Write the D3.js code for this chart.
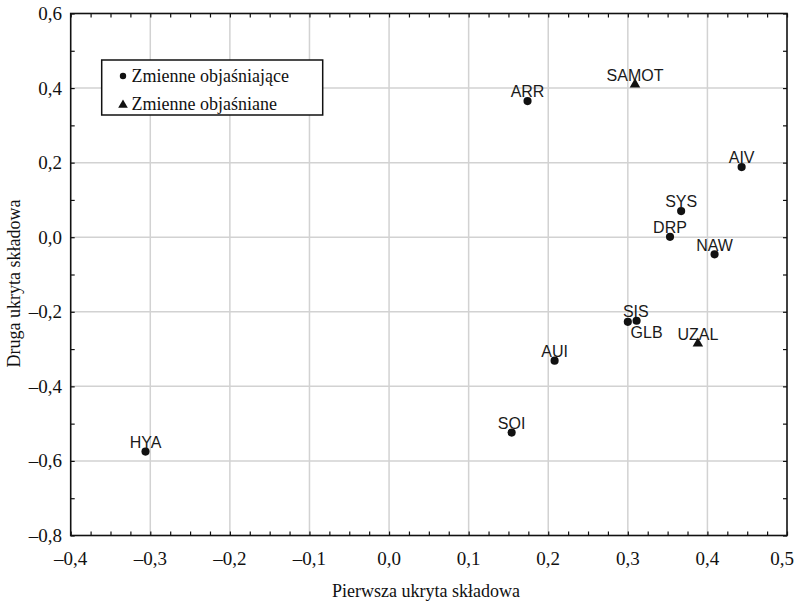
<!DOCTYPE html>
<html>
<head>
<meta charset="utf-8">
<script src="https://cdn.jsdelivr.net/npm/d3@7"></script>
<style>
  body { margin: 0; background: #fff; }
  svg { display: block; }
  .tick-label { font-family: "Liberation Serif", "Times New Roman", serif; font-size: 19px; fill: #111; }
  .axis-title { font-family: "Liberation Serif", "Times New Roman", serif; font-size: 18px; fill: #111; }
  .pt-label { font-family: "Liberation Sans", Arial, sans-serif; font-size: 16px; fill: #1a1a1a; }
  .legend-text { font-family: "Liberation Serif", "Times New Roman", serif; font-size: 18px; fill: #111; }
</style>
</head>
<body>
<script>
//////////////////////////////// DATA ////////////////////////////////
var names  = ["ARR", "SAMOT", "AIV", "SYS", "DRP", "NAW", "SIS", "GLB", "UZAL", "AUI", "SOI", "HYA"];
var xVals  = [0.174, 0.309, 0.443, 0.367, 0.353, 0.409, 0.300, 0.311, 0.388, 0.208, 0.154, -0.306];
var yVals  = [0.365, 0.410, 0.188, 0.070, 0.001, -0.046, -0.227, -0.224, -0.285, -0.331, -0.524, -0.575];
// "e" = zmienne objaśniające (kropka), "d" = zmienne objaśniane (trójkąt)
var kinds  = ["e", "d", "e", "e", "e", "e", "e", "e", "d", "e", "e", "e"];

var xTicks = [-0.4, -0.3, -0.2, -0.1, 0.0, 0.1, 0.2, 0.3, 0.4, 0.5];
var yTicks = [-0.8, -0.6, -0.4, -0.2, 0.0, 0.2, 0.4, 0.6];
var legendLabels = ["Zmienne objaśniające", "Zmienne objaśniane"];
var xTitle = "Pierwsza ukryta składowa";
var yTitle = "Druga ukryta składowa";

// label nudges (layout only)
var labelNudge = { SIS: [8, -5], GLB: [10, 17] };

//////////////////////////////// SETUP ////////////////////////////////
var width = 795,
    height = 604,
    pLeft = 70.7, pRight = 787,
    pTop = 13.5, pBottom = 535.5;

var svg = d3.select("body").append("svg")
    .attr("width", width)
    .attr("height", height);

var x = d3.scaleLinear().domain([-0.4, 0.5]).range([pLeft, pRight]);
var y = d3.scaleLinear().domain([-0.8, 0.6]).range([pBottom, pTop]);

function fmt(v) {
    var s = d3.format(".1f")(Math.abs(v)).replace(".", ",");
    return (v < -1e-9 ? "\u2013" : "") + s;
}

// gridlines
svg.append("g").selectAll("line")
    .data(xTicks.slice(1, -1))
    .enter().append("line")
    .attr("x1", function (d) { return x(d); })
    .attr("x2", function (d) { return x(d); })
    .attr("y1", pTop).attr("y2", pBottom)
    .attr("stroke", "#d2d2d2").attr("stroke-width", 1.5);

svg.append("g").selectAll("line")
    .data(yTicks.slice(1, -1))
    .enter().append("line")
    .attr("y1", function (d) { return y(d); })
    .attr("y2", function (d) { return y(d); })
    .attr("x1", pLeft).attr("x2", pRight)
    .attr("stroke", "#d2d2d2").attr("stroke-width", 1.5);

// inner ticks via d3 axes
var minorX = d3.range(0, 37).map(function (i) { return -0.4 + i * 0.025; });
var minorY = d3.range(0, 15).map(function (i) { return -0.8 + i * 0.1; });

function noDomain(g) { g.select(".domain").remove(); }

svg.append("g")
    .attr("transform", "translate(0," + pBottom + ")")
    .call(d3.axisTop(x).tickValues(minorX).tickSize(4).tickFormat(""))
    .call(noDomain);
svg.append("g")
    .attr("transform", "translate(0," + pTop + ")")
    .call(d3.axisBottom(x).tickValues(minorX).tickSize(4).tickFormat(""))
    .call(noDomain);
svg.append("g")
    .attr("transform", "translate(" + pLeft + ",0)")
    .call(d3.axisRight(y).tickValues(minorY).tickSize(4).tickFormat(""))
    .call(noDomain);
svg.append("g")
    .attr("transform", "translate(" + pRight + ",0)")
    .call(d3.axisLeft(y).tickValues(minorY).tickSize(4).tickFormat(""))
    .call(noDomain);

svg.selectAll(".tick line").attr("stroke", "#111").attr("stroke-width", 1.2);
svg.selectAll(".tick text").remove();

// frame
svg.append("rect")
    .attr("x", pLeft).attr("y", pTop)
    .attr("width", pRight - pLeft).attr("height", pBottom - pTop)
    .attr("fill", "none").attr("stroke", "#111").attr("stroke-width", 1.6);

// tick labels
svg.append("g").selectAll("text")
    .data(xTicks)
    .enter().append("text")
    .attr("class", "tick-label")
    .attr("x", function (d) { return Math.min(x(d), 782); })
    .attr("y", 565)
    .attr("text-anchor", "middle")
    .text(fmt);

svg.append("g").selectAll("text")
    .data(yTicks)
    .enter().append("text")
    .attr("class", "tick-label")
    .attr("x", 62)
    .attr("y", function (d) { return y(d) + 6.5; })
    .attr("text-anchor", "end")
    .text(fmt);

// axis titles
svg.append("text")
    .attr("class", "axis-title")
    .attr("x", 426).attr("y", 597)
    .attr("text-anchor", "middle")
    .text(xTitle);

svg.append("text")
    .attr("class", "axis-title")
    .attr("transform", "translate(20,283.5) rotate(-90)")
    .attr("text-anchor", "middle")
    .text(yTitle);

// points
var pts = names.map(function (n, i) {
    return { name: n, x: xVals[i], y: yVals[i], kind: kinds[i] };
});

var circleSym = d3.symbol().type(d3.symbolCircle).size(52);
var triSym = d3.symbol().type(d3.symbolTriangle).size(48);

svg.append("g").selectAll("path")
    .data(pts)
    .enter().append("path")
    .attr("transform", function (d) { return "translate(" + x(d.x) + "," + y(d.y) + ")"; })
    .attr("d", function (d) { return d.kind === "d" ? triSym() : circleSym(); })
    .attr("fill", "#111");

svg.append("g").selectAll("text")
    .data(pts)
    .enter().append("text")
    .attr("class", "pt-label")
    .attr("text-anchor", "middle")
    .attr("x", function (d) { return x(d.x) + (labelNudge[d.name] ? labelNudge[d.name][0] : 0); })
    .attr("y", function (d) { return y(d.y) + (labelNudge[d.name] ? labelNudge[d.name][1] : -3.8); })
    .text(function (d) { return d.name; });

// legend
var legend = svg.append("g");
legend.append("rect")
    .attr("x", 101.7).attr("y", 60)
    .attr("width", 221).attr("height", 55)
    .attr("fill", "#fff").attr("stroke", "#111").attr("stroke-width", 1.5);

legend.selectAll("path")
    .data(legendLabels)
    .enter().append("path")
    .attr("transform", function (d, i) { return "translate(123," + (76 + i * 29) + ")"; })
    .attr("d", function (d, i) { return i === 1 ? d3.symbol().type(d3.symbolTriangle).size(40)() : d3.symbol().type(d3.symbolCircle).size(32)(); })
    .attr("fill", "#111");

legend.selectAll("text")
    .data(legendLabels)
    .enter().append("text")
    .attr("class", "legend-text")
    .attr("x", 131.5)
    .attr("y", function (d, i) { return 81.7 + i * 28.5; })
    .text(function (d) { return d; });
</script>
</body>
</html>
